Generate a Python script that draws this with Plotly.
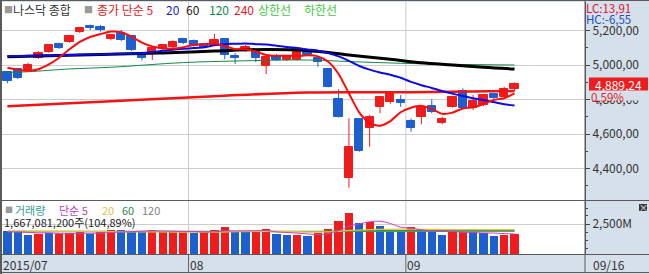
import plotly.graph_objects as go

# ---------------- data ----------------
opens  = [4958, 4975, 4971, 5039, 5077, 5120, 5135, 5190, 5226, 5222,
          5149, 5184, 5168, 5064, 5062, 5091, 5103, 5151, 5141, 5122,
          5116, 5149, 5050, 5083, 5077, 4994, 5052, 5029, 5029, 5087,
          5039, 4977, 4801, 4347, 4687, 4633, 4758, 4787, 4797, 4675,
          4700, 4762, 4665, 4758, 4851, 4749, 4768, 4832, 4816, 4859]
highs  = [4965, 4981, 5013, 5081, 5120, 5129, 5174, 5219, 5234, 5232,
          5180, 5203, 5174, 5074, 5101, 5122, 5142, 5157, 5148, 5128,
          5180, 5157, 5070, 5116, 5087, 5052, 5064, 5058, 5099, 5093,
          5052, 4983, 4859, 4691, 4693, 4710, 4818, 4838, 4826, 4690,
          4765, 4801, 4700, 4818, 4865, 4826, 4832, 4838, 4874, 4900]
lows   = [4894, 4919, 4965, 5035, 5071, 5093, 5129, 5185, 5203, 5193,
          5143, 5139, 5081, 5026, 5029, 5087, 5099, 5122, 5107, 5097,
          5110, 5033, 5006, 5077, 5017, 4948, 5023, 5023, 5026, 5052,
          4990, 4870, 4696, 4289, 4497, 4526, 4720, 4775, 4758, 4613,
          4656, 4720, 4656, 4752, 4748, 4739, 4762, 4801, 4811, 4851]
closes = [4907, 4923, 5000, 5071, 5116, 5100, 5168, 5213, 5213, 5203,
          5174, 5145, 5087, 5039, 5097, 5116, 5135, 5129, 5112, 5103,
          5145, 5058, 5043, 5104, 5039, 5048, 5029, 5052, 5091, 5058,
          5019, 4874, 4700, 4526, 4503, 4700, 4813, 4832, 4780, 4633,
          4758, 4729, 4687, 4813, 4752, 4793, 4826, 4807, 4859, 4889.24]

ma5 = [4984, 4972, 4966, 4975, 5003, 5042, 5091, 5134, 5162, 5179,
       5194, 5190, 5164, 5130, 5108, 5097, 5095, 5103, 5118, 5119,
       5125, 5109, 5092, 5091, 5078, 5058, 5053, 5054, 5052, 5056,
       5050, 5019, 4948, 4835, 4724, 4661, 4648, 4675, 4726, 4752,
       4763, 4746, 4717, 4724, 4748, 4755, 4774, 4798, 4807, 4835]
ma20 = [5052, 5052, 5053, 5054, 5055, 5056, 5058, 5059, 5061, 5062,
        5064, 5065, 5066, 5068, 5075, 5082, 5089, 5094, 5098, 5103,
        5115, 5121, 5123, 5125, 5121, 5119, 5112, 5104, 5098, 5090,
        5083, 5069, 5050, 5024, 4994, 4973, 4957, 4943, 4926, 4902,
        4883, 4867, 4849, 4834, 4820, 4807, 4797, 4785, 4773, 4765]
ma60_idx = [0, 9, 15, 20, 25, 29, 33, 37, 40, 43, 46, 49]
ma60     = [5048, 5061, 5070, 5081, 5090, 5084, 5058, 5033, 5013, 5000, 4987, 4977]
ma120_idx = [0, 2, 6, 10, 17, 22, 29, 33, 38, 43, 49]
ma120     = [4957, 4961, 4977, 4987, 5014, 5023, 5029, 5020, 5010, 5004, 5000]
ma240_idx = [0, 10, 20, 29, 39, 49]
ma240     = [4761, 4790, 4819, 4841, 4842, 4849]

volumes = [1917, 1861, 1583, 1667, 1778, 1639, 1722, 1806, 1667, 1806,
           1972, 1972, 1917, 1833, 1972, 1944, 1833, 1833, 1778, 1806,
           1972, 2250, 1806, 1806, 1861, 2056, 1667, 1556, 1556, 1528,
           1778, 2083, 2750, 3389, 2556, 2639, 2333, 1806, 1806, 2222,
           1917, 1861, 1583, 1806, 1806, 1806, 1778, 1528, 1583, 1667.08]
vol_up = ['B', 'B', 'B', 'R', 'B', 'R', 'R', 'R', 'B', 'R',
          'R', 'B', 'B', 'B', 'R', 'R', 'R', 'R', 'B', 'R',
          'R', 'R', 'B', 'B', 'R', 'R', 'B', 'B', 'R', 'B',
          'R', 'R', 'R', 'R', 'B', 'R', 'B', 'B', 'B', 'R',
          'B', 'B', 'B', 'R', 'R', 'B', 'B', 'B', 'R', 'R']
vma5 = [1850, 1840, 1800, 1760, 1761, 1706, 1678, 1722, 1722, 1728,
        1795, 1845, 1867, 1900, 1933, 1928, 1900, 1883, 1872, 1839,
        1844, 1928, 1922, 1928, 1939, 1956, 1839, 1789, 1739, 1673,
        1617, 1700, 1939, 2306, 2511, 2683, 2733, 2545, 2228, 2161,
        2017, 1922, 1878, 1878, 1795, 1772, 1756, 1745, 1700, 1672]
vma20_idx = [0, 5, 10, 15, 20, 22, 25, 28, 30, 32, 33, 34, 35, 36, 39, 41, 44, 47, 49]
vma20     = [1900, 1890, 1860, 1840, 1818, 1858, 1887, 1862, 1836, 1883, 1961,
             1990, 2025, 2050, 2071, 2049, 2035, 2027, 2035]
vma60_idx = [0, 15, 30, 35, 40, 49]
vma60     = [1880, 1880, 1885, 1925, 1945, 1950]
vma120_idx = [0, 25, 49]
vma120     = [1860, 1865, 1880]

price_ticks = [4400, 4600, 4800, 5000, 5200]
price_tick_text = ['4,400,00', '4,600,00', '4,800,00', '5,000,00', '5,200,00']
vol_ticks = [2500]
vol_tick_text = ['2,500M']
month_labels = ['2015/07', '08', '09']
month_start_idx = [0, 18, 39]
last_date = '09/16'
last_price_text = '4,889,24'
change_text = '0,59%'
volume_text = '1,667,081,200주(104,89%)'
lc_text = 'LC:13,91'
hc_text = 'HC:-6,55'

# ---------------- layout helpers ----------------
W, H = 649, 274
FONT = 'Noto Sans CJK KR'
RED = '#ee1c1c'
BLUE = '#1d5fcf'
PANEL = '#d6e0eb'
DARK = '#5a5a5a'
GRID = '#cdcdcd'

PX0, PX1 = 2, 585          # plot area horizontal pixels
X_FIRST, X_STEP = 7.4, 10.35
def xr(px):
    return (px - X_FIRST) / X_STEP
def X(px):
    return px / W
def Y(py):
    return 1 - py / H

P_REF_Y, P_REF, P_PER_PX = 65.0, 5000.0, 5.797
def price_at(py):
    return P_REF - (py - P_REF_Y) * P_PER_PX
V_PER_PX = 83.33

n = len(closes)
idx = list(range(n))

fig = go.Figure()

# ---- candles: wicks ----
for col, cond in ((RED, lambda o, c: c >= o), (BLUE, lambda o, c: c < o)):
    wx, wy = [], []
    for i in idx:
        if cond(opens[i], closes[i]):
            wx += [i, i, None]
            wy += [lows[i], highs[i], None]
    fig.add_trace(go.Scatter(x=wx, y=wy, mode='lines', line=dict(color=col, width=1),
                             hoverinfo='skip', showlegend=False, xaxis='x', yaxis='y'))

# ---- candles: bodies ----
up = [i for i in idx if closes[i] >= opens[i]]
dn = [i for i in idx if closes[i] < opens[i]]
fig.add_trace(go.Bar(x=up, base=[opens[i] for i in up], y=[closes[i] - opens[i] for i in up],
                     width=0.8, marker=dict(color=RED, line=dict(color=RED, width=1)),
                     showlegend=False, xaxis='x', yaxis='y'))
fig.add_trace(go.Bar(x=dn, base=[closes[i] for i in dn], y=[opens[i] - closes[i] for i in dn],
                     width=0.8, marker=dict(color=BLUE, line=dict(color=BLUE, width=1)),
                     showlegend=False, xaxis='x', yaxis='y'))

# ---- moving averages ----
fig.add_trace(go.Scatter(x=ma240_idx, y=ma240, mode='lines', line=dict(color='#f01414', width=2.5, shape='spline'),
                         showlegend=False, xaxis='x', yaxis='y'))
fig.add_trace(go.Scatter(x=ma120_idx, y=ma120, mode='lines', line=dict(color='#118844', width=1, shape='spline'),
                         showlegend=False, xaxis='x', yaxis='y'))
fig.add_trace(go.Scatter(x=ma60_idx, y=ma60, mode='lines', line=dict(color='#000000', width=3, shape='spline'),
                         showlegend=False, xaxis='x', yaxis='y'))
fig.add_trace(go.Scatter(x=idx, y=ma20, mode='lines', line=dict(color='#0a0ae6', width=2, shape='spline', smoothing=0.6),
                         showlegend=False, xaxis='x', yaxis='y'))
fig.add_trace(go.Scatter(x=idx, y=ma5, mode='lines', line=dict(color='#ff0a0a', width=2, shape='spline', smoothing=0.6),
                         showlegend=False, xaxis='x', yaxis='y'))

# ---- volume ----
vcol = [RED if c == 'R' else BLUE for c in vol_up]
fig.add_trace(go.Bar(x=idx, y=volumes, width=0.8, marker=dict(color=vcol, line=dict(width=0)),
                     showlegend=False, xaxis='x2', yaxis='y2'))
fig.add_trace(go.Scatter(x=vma120_idx, y=vma120, mode='lines', line=dict(color='#909090', width=1),
                         showlegend=False, xaxis='x2', yaxis='y2'))
fig.add_trace(go.Scatter(x=vma60_idx, y=vma60, mode='lines', line=dict(color='#2a9a3a', width=1.5, shape='spline'),
                         showlegend=False, xaxis='x2', yaxis='y2'))
fig.add_trace(go.Scatter(x=vma20_idx, y=vma20, mode='lines', line=dict(color='#e6c040', width=1.2, shape='spline'),
                         showlegend=False, xaxis='x2', yaxis='y2'))
fig.add_trace(go.Scatter(x=idx, y=vma5, mode='lines', line=dict(color='#cc3fcc', width=1, shape='spline'),
                         showlegend=False, xaxis='x2', yaxis='y2'))

xdom = [X(PX0), X(PX1)]
xrange_ = [xr(PX0), xr(PX1)]
fig.update_layout(
    width=W, height=H, margin=dict(l=0, r=0, t=0, b=0),
    paper_bgcolor=PANEL, plot_bgcolor='white',
    barmode='overlay', bargap=0, showlegend=False,
    font=dict(family=FONT, size=12, color='#333333'),
    xaxis=dict(domain=xdom, range=xrange_, anchor='y', showticklabels=False, showgrid=False,
               zeroline=False, fixedrange=True),
    xaxis2=dict(domain=xdom, range=xrange_, anchor='y2', matches='x', showticklabels=False,
                showgrid=False, zeroline=False, fixedrange=True),
    yaxis=dict(domain=[Y(200), Y(2)], range=[price_at(200), price_at(2)], side='right', anchor='x',
               tickvals=price_ticks, ticktext=price_tick_text, ticks='outside', ticklen=4,
               tickcolor='#444', showline=True, linecolor='#555', linewidth=1,
               showgrid=True, gridcolor=GRID, gridwidth=1, zeroline=False,
               tickfont=dict(family=FONT, size=12, color='#333'),
               minor=dict(tickvals=[4300, 4500, 4700, 4900, 5100, 5300], ticks='outside', ticklen=2,
                          tickcolor='#444', showgrid=False),
               fixedrange=True),
    yaxis2=dict(domain=[Y(254), Y(201)], range=[0, 53 * V_PER_PX], side='right', anchor='x2',
                tickvals=vol_ticks, ticktext=vol_tick_text, ticks='outside', ticklen=4,
                tickcolor='#444', showline=True, linecolor='#555', linewidth=1,
                showgrid=True, gridcolor=GRID, zeroline=False,
                tickfont=dict(family=FONT, size=12, color='#333'),
                minor=dict(tickvals=[500, 1167, 1833, 3167, 3833], ticks='outside', ticklen=2,
                           tickcolor='#444', showgrid=False),
                fixedrange=True),
)

shapes = []
def prect(x0, y0, x1, y1, color, layer='above'):
    shapes.append(dict(type='rect', xref='paper', yref='paper', x0=X(x0), x1=X(x1), y0=Y(y1), y1=Y(y0),
                       fillcolor=color, line=dict(width=0), layer=layer))
def pline(x0, y0, x1, y1, color, width=1, layer='above'):
    shapes.append(dict(type='line', xref='paper', yref='paper', x0=X(x0), x1=X(x1), y0=Y(y0), y1=Y(y1),
                       line=dict(color=color, width=width), layer=layer))

# month boundaries (data-positioned)
for k in month_start_idx[1:]:
    shapes.append(dict(type='line', xref='x', yref='paper', x0=k - 0.5, x1=k - 0.5, y0=Y(254), y1=Y(0),
                       line=dict(color=GRID, width=1), layer='below'))
    shapes.append(dict(type='line', xref='x', yref='paper', x0=k - 0.5, x1=k - 0.5, y0=Y(273), y1=Y(255),
                       line=dict(color='#666', width=1), layer='above'))

# frame lines
prect(0, 0, 2, 274, DARK)
pline(0, 0.5, W, 0.5, DARK)
pline(0, 200.5, W, 200.5, DARK)
pline(0, 254.5, W, 254.5, DARK)
pline(0, 272.5, W, 272.5, DARK)
pline(585, 0, 585, 273, DARK)

# cover for LC / HC block and the % label
prect(586, 1, W, 25.5, PANEL)
prect(590, 90.5, W, 100.5, PANEL)

# last price tag (positioned on the last close)
tag_half = 6.5 * P_PER_PX
shapes.append(dict(type='rect', xref='paper', yref='y', x0=X(589), x1=X(648),
                   y0=closes[-1] - tag_half, y1=closes[-1] + tag_half,
                   fillcolor='#ee1c1c', line=dict(width=0), layer='above'))
# close box icon
prect(639, 204, 647, 211, '#3a3a3a')
fig.update_layout(shapes=shapes)

def txt(px, py, s, color, size=12, anchor='left', xref='paper', yref='paper', xv=None, yv=None):
    fig.add_annotation(x=X(px) if xv is None else xv, y=Y(py) if yv is None else yv,
                       xref=xref, yref=yref, text=s, showarrow=False,
                       xanchor=anchor, yanchor='middle', borderpad=0, borderwidth=0,
                       font=dict(family=FONT, size=size, color=color))

# title row
txt(4, 10, '■', '#9a9a9a', 9)
txt(13, 10, '나스닥 종합', '#333333', 12)
txt(84, 10, '■', '#9a9a9a', 9)
txt(97, 10, '종가 단순 5', '#e8141e', 12)
txt(166, 10, '20', '#1a1ae0', 12)
txt(186, 10, '60', '#222222', 12)
txt(209, 10, '120', '#0a8a3a', 12)
txt(234, 10, '240', '#e8141e', 12)
txt(258, 10, '상한선', '#3ccc3c', 12)
txt(304, 10, '하한선', '#3ccc3c', 12)

# volume legend
txt(5, 209.5, '■', '#9a9a9a', 8)
txt(15, 209.5, '거래량', '#3a9a9a', 11)
txt(59, 209.5, '단순 5', '#c040c0', 11)
txt(102, 209.5, '20', '#e0c050', 11)
txt(122, 209.5, '60', '#2a8a4a', 11)
txt(142, 209.5, '120', '#808080', 11)
txt(4, 221.5, volume_text, '#222222', 11)

# right panel
txt(586, 8, lc_text, '#e01030', 11.5)
txt(586, 19, hc_text, '#2050c0', 11.5)
txt(618.5, 0, last_price_text, 'white', 12, anchor='center', yref='y', yv=closes[-1])
txt(591, 96.5, change_text, '#e02020', 11.5)
txt(643, 207.5, '×', 'white', 9, anchor='center')

# bottom date strip
txt(3, 264, month_labels[0], '#333333', 12)
for lab, k in zip(month_labels[1:], month_start_idx[1:]):
    txt(0, 264, lab, '#333333', 12, xref='x2', xv=k - 0.5 + 0.1)
txt(593, 264, last_date, '#333333', 12)

fig.write_html('out.html')
